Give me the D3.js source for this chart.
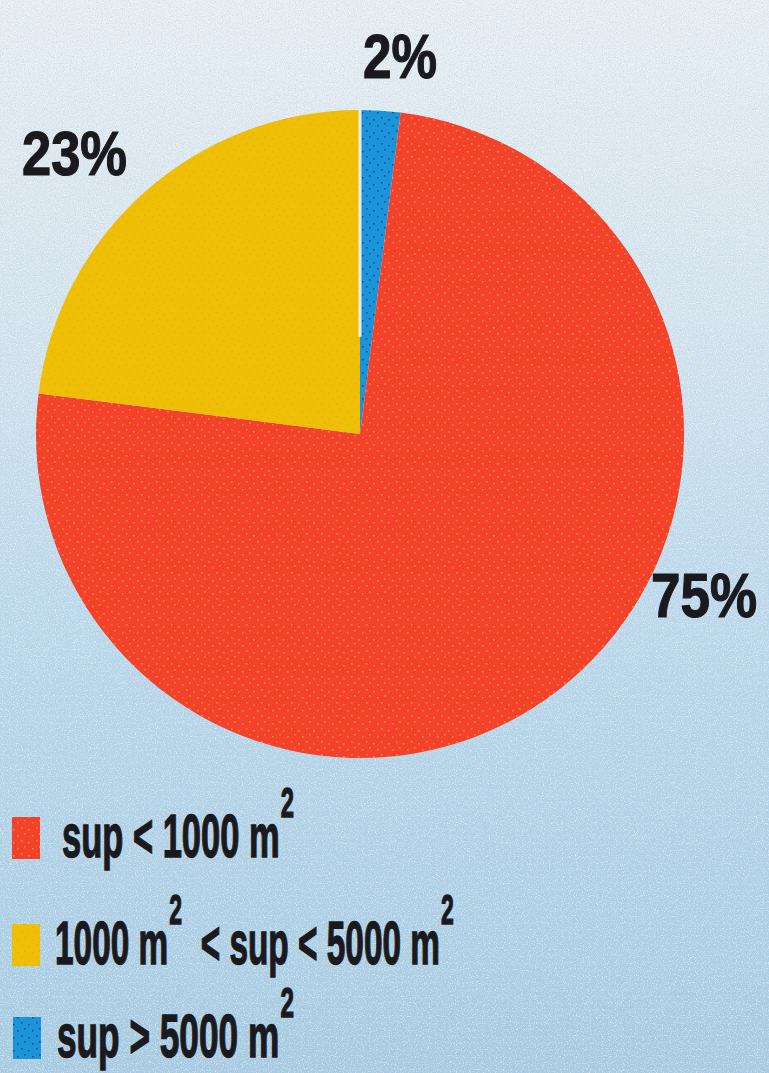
<!DOCTYPE html>
<html>
<head>
<meta charset="utf-8">
<script src="https://cdn.jsdelivr.net/npm/d3@7"></script>
<style>
  body { margin: 0; overflow: hidden; }
  svg { display: block; }
</style>
</head>
<body>
<svg id="chart"></svg>
<script>
// pie slices, clockwise from 12 o'clock
const categories = ["sup > 5000 m2", "sup < 1000 m2", "1000 m2 < sup < 5000 m2"];
const shares = [2, 75, 23];
const pct_labels = ["2%", "75%", "23%"];
const slice_colors = ["#1c94da", "#f4412b", "#eebf06"];
const dot_colors = ["#0b3d8a", "#f0a020", "#d59a00"];

// legend rows (top to bottom) -> index into categories
const legend_order = [1, 2, 0];
const legend_parts = [
  [{ t: "sup < 1000 m" }, { s: "2" }],
  [{ t: "1000 m" }, { s: "2" }, { t: "\u00a0 < sup < 5000 m" }, { s: "2" }],
  [{ t: "sup > 5000 m" }, { s: "2" }],
];

const width = 769,
  height = 1073;
const center = { x: 360, y: 434 };
const radius = 324;
const FONT = "'Liberation Sans', Arial, sans-serif";
const INK = "#1a1a1e";

const svg = d3
  .select("#chart")
  .attr("width", width)
  .attr("height", height)
  .attr("viewBox", [0, 0, width, height]);

const defs = svg.append("defs");

// background
const grad = defs
  .append("linearGradient")
  .attr("id", "bg")
  .attr("x1", 0).attr("y1", 0)
  .attr("x2", 0).attr("y2", 1);
[
  [0, "#e8edf1"],
  [0.3, "#d5e3ec"],
  [0.55, "#bdd8ea"],
  [1, "#a7cae0"],
].forEach((s) => grad.append("stop").attr("offset", s[0]).attr("stop-color", s[1]));

function add_grain(id, seed, rgb) {
  const f = defs
    .append("filter")
    .attr("id", id)
    .attr("x", 0).attr("y", 0)
    .attr("width", "100%").attr("height", "100%");
  f.append("feTurbulence")
    .attr("type", "fractalNoise")
    .attr("baseFrequency", 0.85)
    .attr("numOctaves", 1)
    .attr("seed", seed);
  f.append("feColorMatrix")
    .attr("type", "matrix")
    .attr("values", `0 0 0 0 ${rgb[0]}  0 0 0 0 ${rgb[1]}  0 0 0 0 ${rgb[2]}  4 0 0 0 -2.0`);
}
add_grain("grain", 7, [1, 1, 1]);
add_grain("grain2", 21, [0.35, 0.6, 0.85]);

svg.append("rect").attr("width", width).attr("height", height).attr("fill", "url(#bg)");
svg.append("rect").attr("width", width).attr("height", height)
  .attr("filter", "url(#grain)").attr("opacity", 0.55);
svg.append("rect").attr("width", width).attr("height", height)
  .attr("filter", "url(#grain2)").attr("opacity", 0.4);

// dotted fills for slices and swatches
categories.forEach((c, i) => {
  const p = defs
    .append("pattern")
    .attr("id", "fill" + i)
    .attr("patternUnits", "userSpaceOnUse")
    .attr("width", 15)
    .attr("height", 13);
  p.append("rect").attr("width", 15).attr("height", 13).attr("fill", slice_colors[i]);
  [[2, 3], [9, 1], [6, 8], [13, 10]].forEach((d) =>
    p.append("rect")
      .attr("x", d[0]).attr("y", d[1])
      .attr("width", 1.6).attr("height", 1.6)
      .attr("fill", dot_colors[i])
      .attr("opacity", i == 2 ? 0.35 : 0.75)
  );
});

// pie
const pie = d3.pie().sort(null).value((d) => d);
const arcs = pie(shares);
const arc = d3.arc().innerRadius(0).outerRadius(radius);

const pie_g = svg.append("g").attr("transform", `translate(${center.x},${center.y})`);
pie_g
  .selectAll(".slice")
  .data(arcs)
  .join("path")
  .attr("class", "slice")
  .attr("d", arc)
  .attr("fill", (d, i) => `url(#fill${i})`);

// thin light seam between the yellow and blue slices
const seam = d3.pointRadial(arcs[0].startAngle, radius);
pie_g
  .append("line")
  .attr("x1", 0).attr("y1", -radius * 0.3)
  .attr("x2", seam[0]).attr("y2", seam[1] - 1)
  .attr("stroke", "#e6edf2")
  .attr("stroke-width", 3);

// fit a text element horizontally into [left, right]
function fit(text, left, right, baseline) {
  const w = text.node().getBBox().width;
  const sx = (right - left) / w;
  text.attr("transform", `translate(${left},${baseline}) scale(${sx},1)`);
}

// percentage labels: [left, right, baseline]
const label_boxes = [
  [363, 437, 78],
  [651, 757, 617],
  [22, 127, 175],
];
pct_labels.forEach((l, i) => {
  const t = svg
    .append("text")
    .attr("font-family", FONT)
    .attr("font-weight", "bold")
    .attr("font-size", 63)
    .attr("fill", INK)
    .attr("stroke", INK)
    .attr("stroke-width", 1.2)
    .text(l);
  fit(t, label_boxes[i][0], label_boxes[i][1], label_boxes[i][2]);
});

// legend
const row_baseline = [857, 964, 1057];
const row_text = [[62, 294], [55, 454], [57, 294]];
const swatch_x = [12, 12, 13];

legend_order.forEach((ci, r) => {
  svg
    .append("rect")
    .attr("x", swatch_x[r])
    .attr("y", row_baseline[r] - 40)
    .attr("width", 28)
    .attr("height", 42)
    .attr("fill", `url(#fill${ci})`);

  const t = svg
    .append("text")
    .attr("font-family", FONT)
    .attr("font-weight", "bold")
    .attr("font-size", 61)
    .attr("fill", INK)
    .attr("stroke", INK)
    .attr("stroke-width", 1.4);
  let up = false;
  legend_parts[r].forEach((p) => {
    if (p.s) {
      t.append("tspan").attr("dy", -40).attr("dx", 2).attr("font-size", 42).text(p.s);
      up = true;
    } else {
      t.append("tspan").attr("dy", up ? 40 : 0).text(p.t);
      up = false;
    }
  });
  fit(t, row_text[r][0], row_text[r][1], row_baseline[r]);
});
</script>
</body>
</html>
